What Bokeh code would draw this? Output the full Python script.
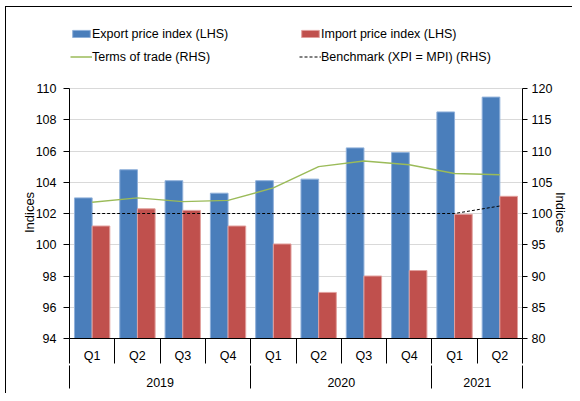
import math
from bokeh.plotting import figure
from bokeh.models import Range1d, LinearAxis, FixedTicker, Legend, LegendItem
from bokeh.embed import file_html
from bokeh.resources import INLINE

# ---------------- data ----------------
years = ["2019", "2020", "2021"]
quarters_per_year = [4, 4, 2]
quarter_labels = ["Q1", "Q2", "Q3", "Q4", "Q1", "Q2", "Q3", "Q4", "Q1", "Q2"]
export_idx = [103.0, 104.8, 104.1, 103.3, 104.1, 104.2, 106.2, 105.9, 108.5, 109.45]
import_idx = [101.2, 102.3, 102.2, 101.2, 100.05, 96.95, 98.0, 98.35, 101.95, 103.1]
terms_of_trade = [101.8, 102.5, 101.9, 102.1, 104.1, 107.5, 108.4, 107.8, 106.4, 106.2]
benchmark = [100, 100, 100, 100, 100, 100, 100, 100, 100, 101.2]
lhs_ticks = [94, 96, 98, 100, 102, 104, 106, 108, 110]
rhs_ticks = [80, 85, 90, 95, 100, 105, 110, 115, 120]
axis_title = "Indices"

FONT = "Liberation Sans"
BLUE = "#4A7EBB"
RED = "#C0504D"
GREEN = "#9BBB59"

# ---------------- layout constants ----------------
W, H = 572, 393
TOP, BOTTOM, LEFT, RIGHT = 8, 55, 69, 50
LEGEND_SPACE = 80          # px above the value area reserved for the legend
frame_h = H - TOP - BOTTOM
axis_h = frame_h - LEGEND_SPACE
ext = frame_h / axis_h      # stretch of the ranges so that the legend fits inside the frame
# the axis titles are centred on the whole frame; pad them so the visible word
# sits at the middle of the value area
title_pad = "\u2003" * 6

n = len(quarter_labels)
centers = [i + 0.5 for i in range(n)]
bounds = [float(i) for i in range(n + 1)]
year_bounds = [0.0]
for k in quarters_per_year:
    year_bounds.append(year_bounds[-1] + k)
year_centers = [(year_bounds[i] + year_bounds[i + 1]) / 2 for i in range(len(years))]

lhs_lo, lhs_hi = lhs_ticks[0], lhs_ticks[-1]
rhs_lo, rhs_hi = rhs_ticks[0], rhs_ticks[-1]

p = figure(width=W, height=H,
           x_range=Range1d(0, n),
           y_range=Range1d(lhs_lo, lhs_lo + (lhs_hi - lhs_lo) * ext),
           x_axis_location=None, output_backend="svg", toolbar_location=None,
           min_border_left=LEFT, min_border_right=RIGHT, min_border_top=TOP,
           min_border_bottom=BOTTOM)
p.extra_y_ranges = {"rhs": Range1d(rhs_lo, rhs_lo + (rhs_hi - rhs_lo) * ext)}
p.outline_line_color = None
p.background_fill_color = "white"
p.border_fill_color = None
p.styles = {
    "background": ("linear-gradient(#000,#000) 5px 6px / 1px 100% no-repeat, "
                   "linear-gradient(#000,#000) 5px 6px / 100% 1px no-repeat, white"),
}

# grid
p.ygrid.ticker = FixedTicker(ticks=lhs_ticks)
p.ygrid.grid_line_color = "#D9D9D9"
p.ygrid.grid_line_width = 1
p.xgrid.visible = False

def style_axis(ax):
    ax.major_label_text_font = FONT
    ax.major_label_text_font_size = "12.5px"
    ax.major_label_text_color = "black"
    ax.axis_label_text_font = FONT
    ax.axis_label_text_font_size = "13px"
    ax.axis_label_text_font_style = "normal"
    ax.axis_label_text_color = "black"
    ax.axis_line_color = "black"
    ax.major_tick_line_color = "black"
    ax.minor_tick_line_color = None

# left axis
ly = p.yaxis[0]
ly.ticker = FixedTicker(ticks=lhs_ticks)
ly.bounds = (lhs_lo, lhs_hi)
style_axis(ly)
ly.axis_label = axis_title + title_pad
ly.major_tick_out = 6
ly.major_tick_in = 0
ly.major_label_standoff = 7
ly.axis_label_standoff = -4

# right axis (title reads top-to-bottom, so the padding goes in front)
ry = LinearAxis(y_range_name="rhs", ticker=FixedTicker(ticks=rhs_ticks),
                axis_label=title_pad + axis_title, bounds=(rhs_lo, rhs_hi))
style_axis(ry)
ry.major_tick_out = 5
ry.major_tick_in = 0
ry.major_label_standoff = 4
ry.axis_label_standoff = -2
p.add_layout(ry, "right")

# bars
bw = 0.39
r_exp = p.vbar(x=[c - bw / 2 for c in centers], top=export_idx, bottom=lhs_lo, width=bw,
               fill_color=BLUE, line_color="#8FB0DA", line_width=1)
r_imp = p.vbar(x=[c + bw / 2 for c in centers], top=import_idx, bottom=lhs_lo, width=bw,
               fill_color=RED, line_color="#E2A09E", line_width=1)

# lines (RHS)
r_tot = p.line(centers, terms_of_trade, y_range_name="rhs", line_color=GREEN, line_width=1.5)
r_bm = p.line(centers, benchmark, y_range_name="rhs", line_color="black", line_width=1,
              line_dash="3 2")

# quarter axis
ax_q = LinearAxis(ticker=FixedTicker(ticks=centers, minor_ticks=bounds),
                  major_label_overrides={c: q for c, q in zip(centers, quarter_labels)})
style_axis(ax_q)
ax_q.major_tick_line_color = None
ax_q.major_tick_out = 0
ax_q.major_tick_in = 0
ax_q.minor_tick_line_color = "black"
ax_q.minor_tick_out = 25
ax_q.minor_tick_in = 0
ax_q.major_label_standoff = -15
p.add_layout(ax_q, "below")

# year axis
ax_y = LinearAxis(ticker=FixedTicker(ticks=year_centers, minor_ticks=year_bounds),
                  major_label_overrides={c: y for c, y in zip(year_centers, years)})
style_axis(ax_y)
ax_y.axis_line_color = None
ax_y.major_tick_line_color = None
ax_y.major_tick_out = 0
ax_y.major_tick_in = 0
ax_y.minor_tick_line_color = "black"
ax_y.minor_tick_out = 23
ax_y.minor_tick_in = 0
ax_y.major_label_standoff = -11
p.add_layout(ax_y, "below")

legend = Legend(items=[
    LegendItem(label="Export price index (LHS)", renderers=[r_exp]),
    LegendItem(label="Import price index (LHS)", renderers=[r_imp]),
    LegendItem(label="Terms of trade (RHS)", renderers=[r_tot]),
    LegendItem(label="Benchmark (XPI = MPI) (RHS)", renderers=[r_bm]),
], orientation="horizontal", ncols=2, location=(1, axis_h + 24), padding=0, margin=0,
    border_line_color=None, background_fill_alpha=0, glyph_width=22, glyph_height=9,
    label_height=15, label_width=199, spacing=8, label_standoff=0,
    label_text_font=FONT, label_text_font_size="12.5px", label_text_color="black")
p.add_layout(legend, "center")

open("out.html", "w").write(file_html(p, INLINE))
